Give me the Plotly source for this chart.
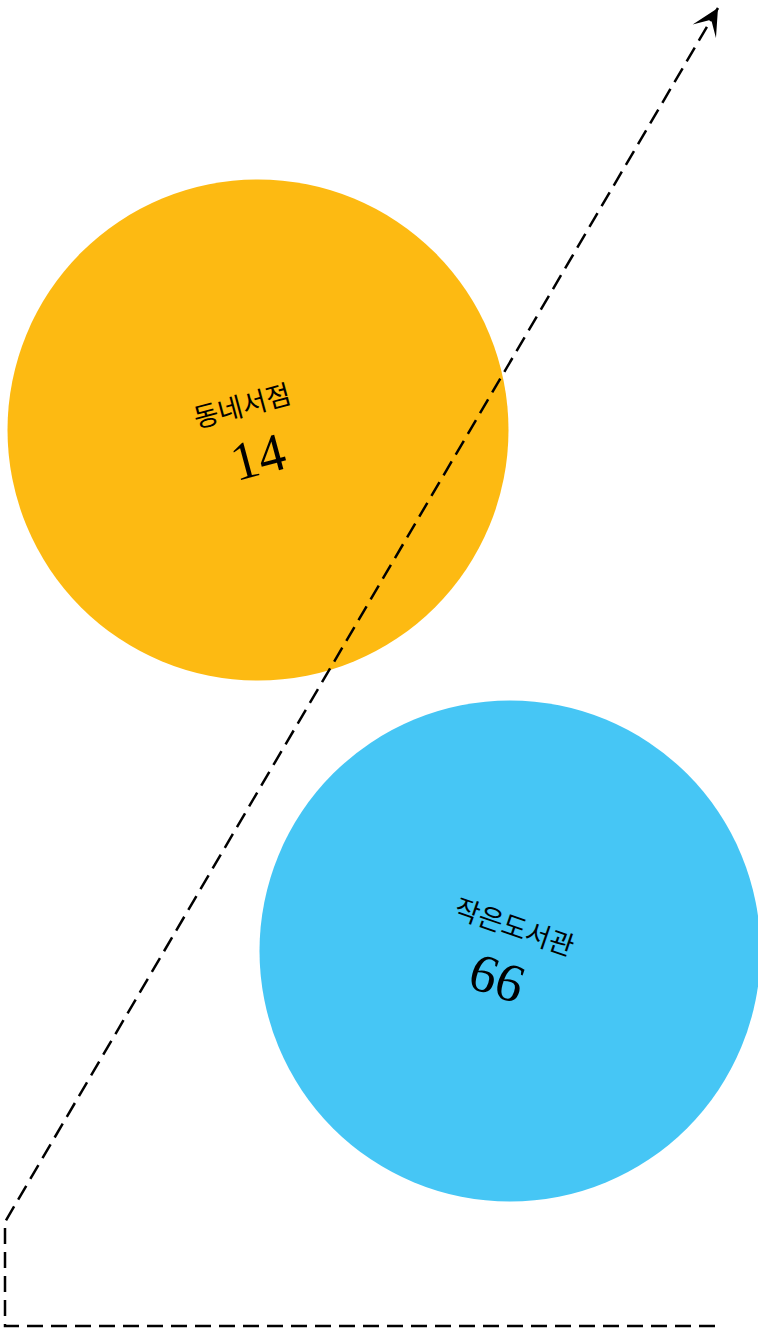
import plotly.graph_objects as go

# bubble data
labels = ["동네서점", "작은도서관"]
values = [14, 66]
colors = ["#FDBA12", "#46C6F5"]
bubble_x = [258, 510]
bubble_y = [430, 951]
label_angle = [-15, 19]

# dashed guide path (bottom right -> bottom left -> up -> diagonal to the arrow tip)
path_x = [715, 5, 5, 718]
path_y = [1326, 1326, 1222, 8]

W, H = 758, 1331

fig = go.Figure()

fig.add_trace(go.Scatter(
    x=bubble_x, y=bubble_y, mode="markers",
    marker=dict(size=501, color=colors, opacity=1, line=dict(width=0)),
    customdata=list(zip(labels, values)),
    hovertemplate="%{customdata[0]}: %{customdata[1]}<extra></extra>",
    showlegend=False,
))

fig.add_trace(go.Scatter(
    x=path_x, y=path_y, mode="lines",
    line=dict(color="black", width=2.5, dash="16px,8px"),
    hoverinfo="skip", showlegend=False,
))

for lab, val, bx, by, ang in zip(labels, values, bubble_x, bubble_y, label_angle):
    fig.add_annotation(
        x=bx, y=by, text=lab, showarrow=False, textangle=ang,
        xshift=-17 if ang < 0 else 5, yshift=26,
        font=dict(family="Noto Sans CJK KR", size=27, color="black"),
    )
    fig.add_annotation(
        x=bx, y=by, text=str(val), showarrow=False, textangle=ang,
        xshift=0 if ang < 0 else -13, yshift=-27,
        font=dict(family="Liberation Serif", size=54, color="black"),
    )

# arrow head at the end of the diagonal
dx, dy = path_x[3] - path_x[2], path_y[3] - path_y[2]
fig.add_annotation(
    x=path_x[3], y=path_y[3], ax=path_x[3] - dx * 0.012, ay=path_y[3] - dy * 0.012,
    xref="x", yref="y", axref="x", ayref="y",
    showarrow=True, arrowhead=3, arrowsize=1.8, arrowwidth=2.5, arrowcolor="black", text="",
)

fig.update_layout(
    width=W, height=H,
    margin=dict(l=0, r=0, t=0, b=0),
    paper_bgcolor="white", plot_bgcolor="white",
    xaxis=dict(range=[0, W], visible=False, fixedrange=True),
    yaxis=dict(range=[H, 0], visible=False, fixedrange=True),
)

fig.write_html(
    "out.html",
    config={"displayModeBar": False},
    post_script="document.body.style.margin='0';",
)
